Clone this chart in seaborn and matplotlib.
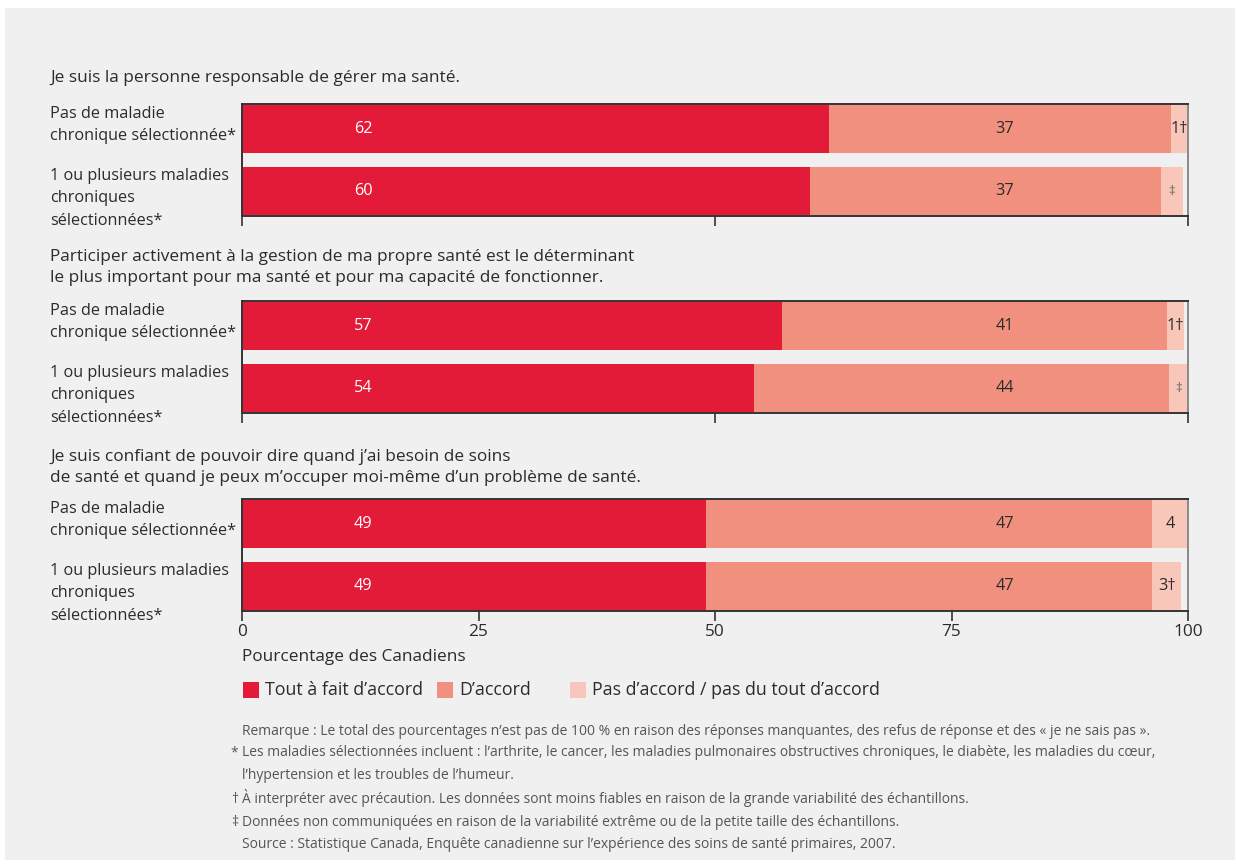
import matplotlib
matplotlib.use("Agg")
import matplotlib.pyplot as plt
import matplotlib.transforms as mtransforms
from matplotlib.patches import Rectangle
import seaborn as sns
import pandas as pd

sns.set_theme(style="white")
plt.rcParams['font.family'] = ['Open Sans', 'DejaVu Sans']

# ---------------- data ----------------
questions = [
    "Je suis la personne responsable de gérer ma santé.",
    "Participer activement à la gestion de ma propre santé est le déterminant\nle plus important pour ma santé et pour ma capacité de fonctionner.",
    "Je suis confiant de pouvoir dire quand j’ai besoin de soins\nde santé et quand je peux m’occuper moi-même d’un problème de santé.",
]
groups = ["Pas de maladie\nchronique sélectionnée*",
          "1 ou plusieurs maladies\nchroniques\nsélectionnées*"]
series = ["Tout à fait d’accord", "D’accord", "Pas d’accord / pas du tout d’accord"]

tout_a_fait = [[62.0, 60.0], [57.1, 54.1], [49.0, 49.0]]
d_accord = [[36.2, 37.1], [40.7, 43.9], [47.2, 47.2]]
pas_d_accord = [[1.8, 2.4], [1.8, 2.0], [3.8, 3.1]]

lbl_tout = [["62", "60"], ["57", "54"], ["49", "49"]]
lbl_accord = [["37", "37"], ["41", "44"], ["47", "47"]]
lbl_pas = [["1†", "‡"], ["1†", "‡"], ["4", "3†"]]

xticks = [0, 25, 50, 75, 100]
xlabel = "Pourcentage des Canadiens"
notes = [
    ("", "Remarque : Le total des pourcentages n’est pas de 100 % en raison des réponses manquantes, des refus de réponse et des « je ne sais pas »."),
    ("*", "Les maladies sélectionnées incluent : l’arthrite, le cancer, les maladies pulmonaires obstructives chroniques, le diabète, les maladies du cœur,"),
    ("", "l’hypertension et les troubles de l’humeur."),
    ("†", "À interpréter avec précaution. Les données sont moins fiables en raison de la grande variabilité des échantillons."),
    ("‡", "Données non communiquées en raison de la variabilité extrême ou de la petite taille des échantillons."),
    ("", "Source : Statistique Canada, Enquête canadienne sur l’expérience des soins de santé primaires, 2007."),
]

colors = ["#E31A38", "#F1907E", "#F8C7BA"]
TXT = "#2b2b2b"
NOTE = "#555555"
FS = 12.4
FSG = 11.7

W, H = 1236, 867
fig = plt.figure(figsize=(W / 100, H / 100), dpi=100, facecolor="white")
fig.patches.append(Rectangle((5 / W, 1 - 860 / H), 1230 / W, 852 / H,
                             transform=fig.transFigure, facecolor="#EFF0EF",
                             edgecolor="none", zorder=-10))

def fx(px):
    return px / W

def fy(py):
    return 1 - py / H

panel_tops = [104, 301, 499]
title_y = [82, 282, 482]
ax_h = 112
bw = 0.77

for p in range(3):
    top = panel_tops[p]
    ax = fig.add_axes([fx(242), fy(top + ax_h), 946 / W, ax_h / H])
    ax.set_facecolor("none")
    ax.set_zorder(2)
    a = tout_a_fait[p]; b = d_accord[p]; c = pas_d_accord[p]
    df = pd.DataFrame({
        "grp": groups,
        "t1": a,
        "t2": [a[i] + b[i] for i in range(2)],
        "t3": [a[i] + b[i] + c[i] for i in range(2)],
    })
    for col, colr in zip(["t3", "t2", "t1"], colors[::-1]):
        sns.barplot(data=df, x=col, y="grp", orient="h", color=colr,
                    saturation=1, width=bw, ax=ax, edgecolor="none", linewidth=0)
    ax.set_xlim(0, 100)
    ax.set_ylim(1.4, -0.4)
    ax.set_ylabel("")
    ax.set_xlabel("")
    ax.set_yticks([])
    for s in ["left", "top", "bottom"]:
        ax.spines[s].set_color("#333333")
        ax.spines[s].set_linewidth(1.4)
    ax.spines["right"].set_color("#8a8a8a")
    ax.spines["right"].set_linewidth(1.4)
    if p == 2:
        ax.set_xticks(xticks)
        ax.set_xticklabels([str(t) for t in xticks], fontsize=FS, color=TXT)
    else:
        ax.set_xticks([0, 50, 100])
        ax.set_xticklabels([])
    ax.tick_params(axis="x", direction="out", length=7, width=1.2,
                   color="#333333", bottom=True, pad=2)

    # bar labels
    for i in range(2):
        ax.text(12.8, i, lbl_tout[p][i], ha="center", va="center",
                color="white", fontsize=FSG)
        ax.text(80.6, i, lbl_accord[p][i], ha="center", va="center",
                color=TXT, fontsize=FSG)
        s = a[i] + b[i]
        is_dd = lbl_pas[p][i] == "‡"
        ax.text(s + c[i] / 2, i, lbl_pas[p][i], ha="center", va="center",
                color="#666666" if is_dd else TXT,
                fontsize=9.5 if is_dd else FSG)

    # group labels
    trans = mtransforms.blended_transform_factory(fig.transFigure, ax.transData)
    for i in range(2):
        ax.text(fx(50), i - bw / 2 + 0.01, groups[i], transform=trans,
                ha="left", va="top", fontsize=FSG, color=TXT, linespacing=1.55)

    # question title (anchored at bottom line)
    fig.text(fx(50), fy(title_y[p]), questions[p], ha="left", va="baseline",
             fontsize=FS, color=TXT, linespacing=1.4)

fig.text(fx(242), fy(657), xlabel, ha="left", va="center", fontsize=FS, color=TXT)

# legend
leg_x = [243, 437, 570]
for k in range(3):
    fig.patches.append(Rectangle((fx(leg_x[k]), fy(698)), 16 / W, 16 / H,
                                 transform=fig.transFigure, facecolor=colors[k],
                                 edgecolor="none"))
    fig.text(fx(leg_x[k] + 22), fy(690), series[k], ha="left", va="center",
             fontsize=12.8, color=TXT)

note_y = [735, 756, 779, 803, 826, 848]
for (sym, txt), y in zip(notes, note_y):
    if sym:
        fig.text(fx(238), fy(y), sym, ha="right", va="baseline", fontsize=10, color=NOTE)
    fig.text(fx(242), fy(y), txt, ha="left", va="baseline", fontsize=10, color=NOTE)

fig.savefig("out.png", dpi=100, facecolor="white")
